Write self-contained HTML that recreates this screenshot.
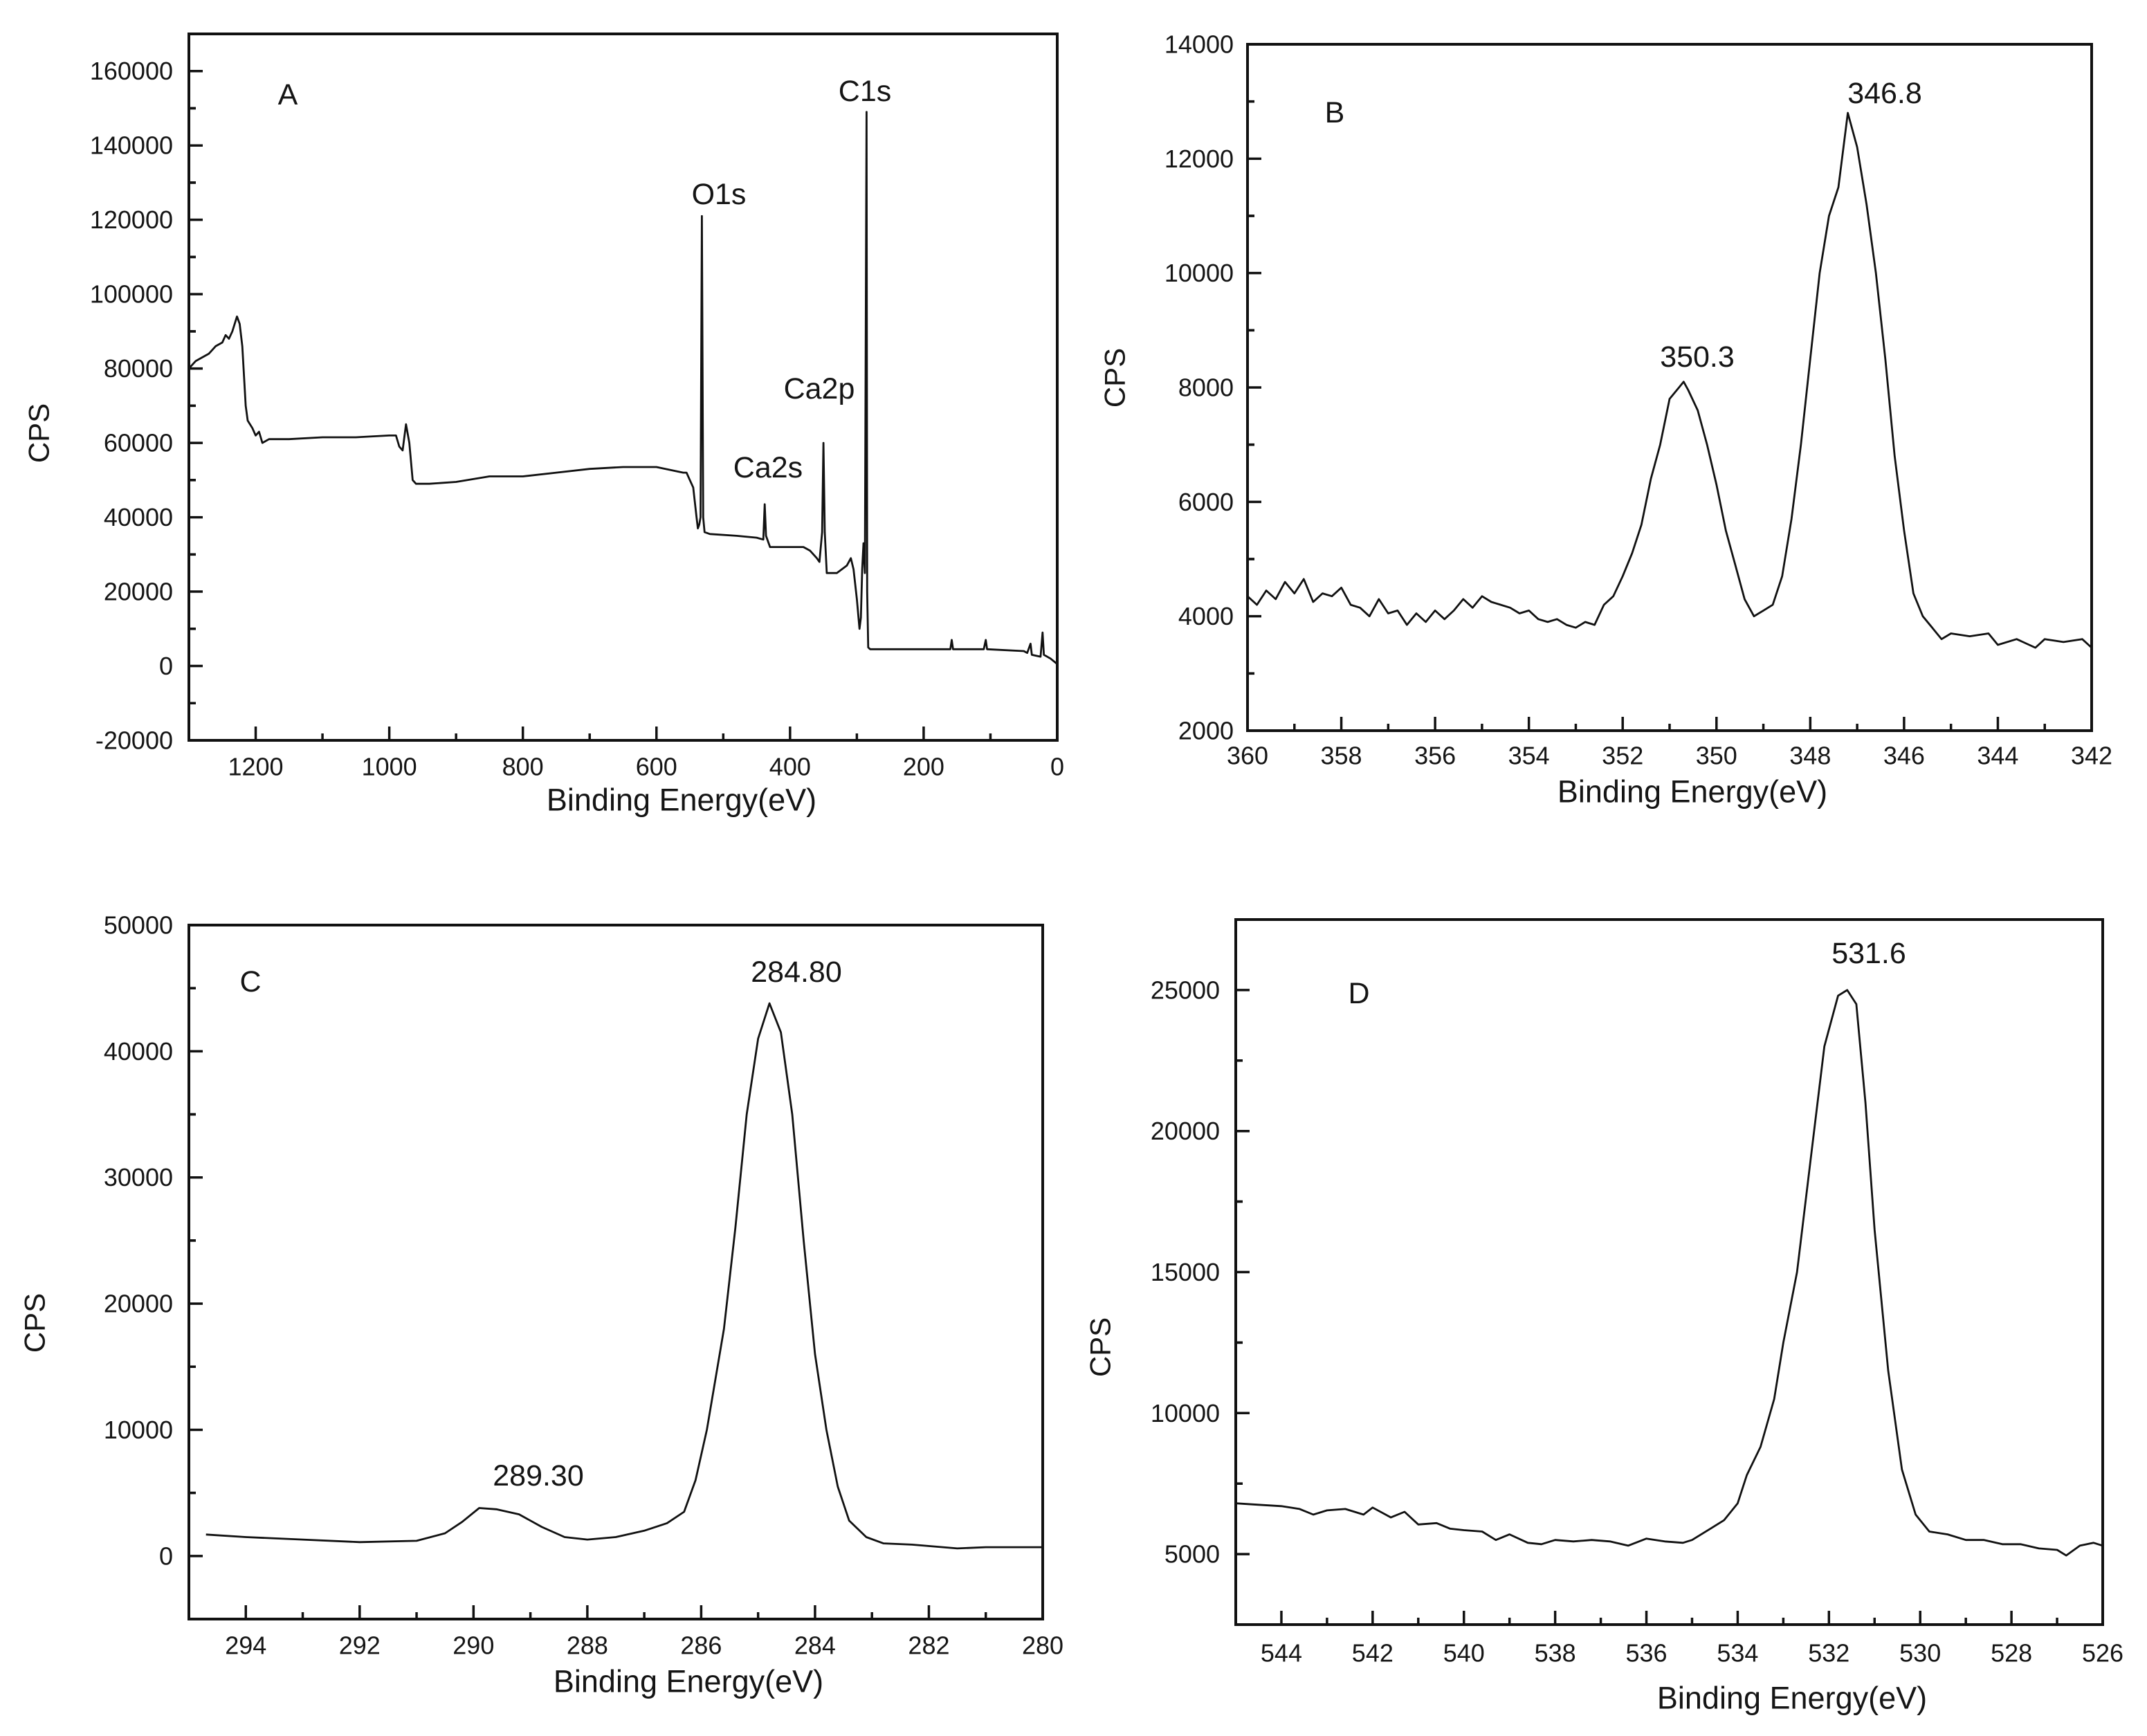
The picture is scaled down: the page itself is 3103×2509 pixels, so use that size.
<!DOCTYPE html>
<html><head><meta charset="utf-8">
<style>
html,body{margin:0;padding:0;background:#fff;}
svg{display:block;}
text{font-family:"Liberation Sans",Arial,sans-serif;fill:#151515;}
</style></head>
<body>
<svg id="fig" width="3103" height="2509" viewBox="0 0 3103 2509" xmlns="http://www.w3.org/2000/svg">
<rect width="3103" height="2509" fill="#fff"/>
</svg>
<script>
// ---- Panel A: survey spectrum ----
const aEnergy = [1300,1290,1280,1270,1260,1250,1245,1240,1235,1228,1224,1220,1215,1212,1205,1200,1195,1190,1180,1150,1100,1050,1000,990,985,980,975,970,965,960,940,900,850,800,750,700,650,600,560,555,550,545,540,538,536,534,532,530,528,520,480,450,440,438,436,430,400,380,370,360,356,352,350,348,345,330,315,309,305,300,296,294,292,290,288,285.5,284.5,283,280,250,200,160,158,156,110,107,105,50,45,40,38,25,22,20,10,0];
const aCps = [80000,82000,83000,84000,86000,87000,89000,88000,90000,94000,92000,86000,70000,66000,64000,62000,63000,60000,61000,61000,61500,61500,62000,62000,59000,58000,65000,60000,50000,49000,49000,49500,51000,51000,52000,53000,53500,53500,52000,52000,50000,48000,40000,37000,38000,40000,121000,40000,36000,35500,35000,34500,34000,43500,35000,32000,32000,32000,31000,29000,28000,36000,60000,36000,25000,25000,27000,29000,26000,18000,10000,13000,26000,33000,25000,149000,20000,5000,4500,4500,4500,4500,7000,4500,4500,7000,4500,4000,3500,6000,3000,2500,9000,3000,2000,500];
const aXTicks = [0,200,400,600,800,1000,1200];
const aYTicks = [-20000,0,20000,40000,60000,80000,100000,120000,140000,160000];

// ---- Panel B: Ca2p ----
const bEnergy = [360,359.8,359.6,359.4,359.2,359.0,358.8,358.6,358.4,358.2,358.0,357.8,357.6,357.4,357.2,357.0,356.8,356.6,356.4,356.2,356.0,355.8,355.6,355.4,355.2,355.0,354.8,354.6,354.4,354.2,354.0,353.8,353.6,353.4,353.2,353.0,352.8,352.6,352.4,352.2,352.0,351.8,351.6,351.4,351.2,351.0,350.8,350.7,350.6,350.4,350.2,350.0,349.8,349.6,349.4,349.2,349.0,348.8,348.6,348.4,348.2,348.0,347.8,347.6,347.4,347.2,347.0,346.8,346.6,346.4,346.2,346.0,345.8,345.6,345.4,345.2,345.0,344.6,344.2,344.0,343.6,343.2,343.0,342.6,342.2,342.0];
const bCps = [4350,4200,4450,4300,4600,4400,4650,4250,4400,4350,4500,4200,4150,4000,4300,4050,4100,3850,4050,3900,4100,3950,4100,4300,4150,4350,4250,4200,4150,4050,4100,3950,3900,3950,3850,3800,3900,3850,4200,4350,4700,5100,5600,6400,7000,7800,8000,8100,7950,7600,7000,6300,5500,4900,4300,4000,4100,4200,4700,5700,7000,8500,10000,11000,11500,12800,12200,11200,10000,8500,6800,5500,4400,4000,3800,3600,3700,3650,3700,3500,3600,3450,3600,3550,3600,3450];
const bXTicks = [342,344,346,348,350,352,354,356,358,360];
const bYTicks = [2000,4000,6000,8000,10000,12000,14000];

// ---- Panel C: C1s ----
const cEnergy = [294.7,294,293,292,291,290.5,290.2,289.9,289.6,289.2,288.8,288.4,288,287.5,287,286.6,286.3,286.1,285.9,285.6,285.4,285.2,285.0,284.8,284.6,284.4,284.2,284.0,283.8,283.6,283.4,283.1,282.8,282.3,281.5,281,280];
const cCps = [1700,1500,1300,1100,1200,1800,2700,3800,3700,3300,2300,1500,1300,1500,2000,2600,3500,6000,10000,18000,26000,35000,41000,43800,41500,35000,25000,16000,10000,5500,2800,1500,1000,900,600,700,700];
const cXTicks = [280,282,284,286,288,290,292,294];
const cYTicks = [0,10000,20000,30000,40000,50000];

// ---- Panel D: O1s ----
const dEnergy = [545,544.5,544,543.6,543.3,543,542.6,542.2,542,541.6,541.3,541,540.6,540.3,540,539.6,539.3,539,538.6,538.3,538,537.6,537.2,536.8,536.4,536,535.6,535.2,535,534.6,534.3,534,533.8,533.5,533.2,533,532.7,532.4,532.1,531.8,531.6,531.4,531.2,531.0,530.7,530.4,530.1,529.8,529.4,529,528.6,528.2,527.8,527.4,527,526.8,526.5,526.2,526];
const dCps = [6800,6750,6700,6600,6400,6550,6600,6400,6650,6300,6500,6050,6100,5900,5850,5800,5500,5700,5400,5350,5500,5450,5500,5450,5300,5550,5450,5400,5500,5900,6200,6800,7800,8800,10500,12500,15000,19000,23000,24800,25000,24500,21000,16500,11500,8000,6400,5800,5700,5500,5500,5350,5350,5200,5150,4950,5300,5400,5300];
const dXTicks = [526,528,530,532,534,536,538,540,542,544];
const dYTicks = [5000,10000,15000,20000,25000];

const NS = "http://www.w3.org/2000/svg";
const svg = document.getElementById('fig');
function mk(tag, attrs, parent){
  const e = document.createElementNS(NS, tag);
  for (const k in attrs) e.setAttribute(k, attrs[k]);
  (parent||svg).appendChild(e);
  return e;
}
function txt(parent, s, x, y, size, anchor, name, extra){
  const t = mk('text', {x:x, y:y, 'font-size':size, 'text-anchor':anchor||'middle', 'dominant-baseline':'central'}, parent);
  
  
  if (extra) for (const k in extra) t.setAttribute(k, extra[k]);
  t.textContent = s;
  return t;
}

function panel(cfg){
  const g = mk('g', {});
  
  
  const L=cfg.L, R=cfg.R, T=cfg.T, B=cfg.B;
  const sx = v => L + (cfg.x0 - v) / (cfg.x0 - cfg.x1) * (R - L);
  const sy = v => B - (v - cfg.y0) / (cfg.y1 - cfg.y0) * (B - T);
  const tg = mk('g', {stroke:'#111','stroke-width':3.5}, g);
  
  
  cfg.xTicks.forEach((v,i) => {
    const x = sx(v);
    mk('line', {x1:x, x2:x, y1:B, y2:B-20}, tg);
    if (i < cfg.xTicks.length-1){
      const xm = sx(v + cfg.xMinor);
      if (xm > L+2 && xm < R-2) mk('line', {x1:xm, x2:xm, y1:B, y2:B-10}, tg);
    }
    txt(g, String(v), x, cfg.xLabelY, 36, 'middle', 'x-tick-label');
  });
  [cfg.xTicks[cfg.xTicks.length-1] + cfg.xMinor, cfg.xTicks[0] - cfg.xMinor].forEach(v=>{
    const xm = sx(v);
    if (xm > L+2 && xm < R-2) mk('line', {x1:xm, x2:xm, y1:B, y2:B-10}, tg);
  });
  cfg.yTicks.forEach((v,i) => {
    const y = sy(v);
    mk('line', {x1:L, x2:L+20, y1:y, y2:y}, tg);
    [v + cfg.yMinor, v - cfg.yMinor].forEach(m=>{
      const ym = sy(m);
      if (ym > T+2 && ym < B-2) mk('line', {x1:L, x2:L+10, y1:ym, y2:ym}, tg);
    });
    txt(g, String(v), cfg.yLabelX, y, 36, 'end', 'y-tick-label');
  });
  let d = '';
  cfg.xs.forEach((v,i) => { d += (i?'L':'M') + sx(v).toFixed(1) + ',' + sy(cfg.ys[i]).toFixed(1); });
  const p = mk('path', {d:d, fill:'none', stroke:'#111', 'stroke-width':2.8, 'stroke-linejoin':'round'}, g);
  
  
  const f = mk('rect', {x:L, y:T, width:R-L, height:B-T, fill:'none', stroke:'#111', 'stroke-width':4}, g);
  
  
  txt(g, 'Binding Energy(eV)', cfg.xtX, cfg.xtY, 45, 'middle', 'x-axis-title');
  txt(g, 'CPS', 0, 0, 42, 'middle', 'y-axis-title', {transform:'translate('+cfg.ytX+','+cfg.ytY+') rotate(-90)'});
  cfg.notes.forEach(n => txt(g, n[0], n[1], n[2], 43, 'middle', n[3]));
}

panel({id:'panel-a', L:273, R:1528, T:49, B:1070, x0:1300, x1:0, y0:-20000, y1:170000,
  xTicks:aXTicks, xMinor:100, yTicks:aYTicks, yMinor:10000, xs:aEnergy, ys:aCps,
  xLabelY:1108, yLabelX:250, xtX:985, xtY:1156, ytX:56, ytY:626,
  notes:[['A',416,137,'panel-label-a'],['C1s',1250,132,'peak-label-c1s'],['O1s',1039,281,'peak-label-o1s'],['Ca2p',1184,562,'peak-label-ca2p'],['Ca2s',1110,676,'peak-label-ca2s']]});

panel({id:'panel-b', L:1803, R:3023, T:64, B:1056, x0:360, x1:342, y0:2000, y1:14000,
  xTicks:bXTicks, xMinor:1, yTicks:bYTicks, yMinor:1000, xs:bEnergy, ys:bCps,
  xLabelY:1092, yLabelX:1783, xtX:2446, xtY:1144, ytX:1611, ytY:546,
  notes:[['B',1929,163,'panel-label-b'],['346.8',2724,135,'peak-label-346-8'],['350.3',2453,516,'peak-label-350-3']]});

panel({id:'panel-c', L:273, R:1507, T:1337, B:2340, x0:295, x1:280, y0:-5000, y1:50000,
  xTicks:cXTicks, xMinor:1, yTicks:cYTicks, yMinor:5000, xs:cEnergy, ys:cCps,
  xLabelY:2378, yLabelX:250, xtX:995, xtY:2430, ytX:50, ytY:1912,
  notes:[['C',362,1419,'panel-label-c'],['284.80',1151,1405,'peak-label-284-80'],['289.30',778,2133,'peak-label-289-30']]});

panel({id:'panel-d', L:1786, R:3039, T:1329, B:2348, x0:545, x1:526, y0:2500, y1:27500,
  xTicks:dXTicks, xMinor:1, yTicks:dYTicks, yMinor:2500, xs:dEnergy, ys:dCps,
  xLabelY:2389, yLabelX:1763, xtX:2590, xtY:2454, ytX:1590, ytY:1947,
  notes:[['D',1964,1436,'panel-label-d'],['531.6',2701,1378,'peak-label-531-6']]});
</script>
</body></html>
